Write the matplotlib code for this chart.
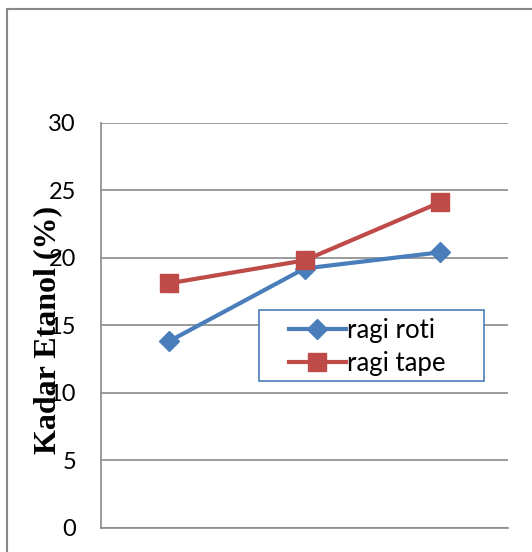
import numpy as np
import matplotlib
matplotlib.use('Agg')
import matplotlib.pyplot as plt
from matplotlib.patches import Rectangle

# data
categories = ['1', '2', '3']
ragi_roti = [13.8, 19.2, 20.4]
ragi_tape = [18.1, 19.8, 24.1]
y_ticks = [0, 5, 10, 15, 20, 25, 30]

blue = '#4A7EBB'
red = '#BE4B48'
grid_c = '#898989'

fig = plt.figure(figsize=(5.32, 5.52), dpi=100)
ax = fig.add_axes([101/532, 1 - 527.7/552, 407/532, 405/552])

x = np.arange(len(categories))
ax.plot(x, ragi_roti, color=blue, lw=3, marker='D', ms=10, label='ragi roti', zorder=3)
ax.plot(x, ragi_tape, color=red, lw=3, marker='s', ms=13, label='ragi tape', zorder=3)

ax.set_xlim(-0.5, 2.5)
ax.set_ylim(0, 30)
ax.set_yticks(y_ticks)
ax.set_xticks([])
ax.yaxis.grid(True, color=grid_c, lw=1.2)
ax.set_axisbelow(True)
for s in ['top', 'right']:
    ax.spines[s].set_visible(False)
for s in ['left', 'bottom']:
    ax.spines[s].set_color(grid_c)
    ax.spines[s].set_linewidth(1.2)
ax.tick_params(axis='y', length=0, pad=18, labelsize=17)
for t in ax.get_yticklabels():
    t.set_fontfamily('Lato')
    t.set_zorder(4)

fig.text(48/532, 1 - 330/552, 'Kadar Etanol (%)', rotation=90, ha='center', va='center',
         fontsize=23, fontweight='bold', fontfamily='Liberation Serif')

# legend box drawn separately so its size matches
fig.patches.append(Rectangle((259/532, 1 - 381/552), 225/532, 71/552, transform=fig.transFigure,
                             fill=True, facecolor='white', edgecolor=blue, lw=1.2, zorder=5))
leg = fig.legend(loc='upper left', bbox_to_anchor=(289/532, 1 - 318/552),
                 frameon=False, handlelength=2.2, handletextpad=0.05,
                 borderpad=0, labelspacing=0.3, prop={'family': 'Lato', 'size': 18.5},
                 borderaxespad=0)
leg.set_zorder(6)

# outer chart border
fig.patches.append(Rectangle((7/532, -0.05), 1.1, 1 - 9/552 + 0.05, transform=fig.transFigure,
                             fill=False, edgecolor=grid_c, lw=1.5))

fig.savefig('out.png', dpi=100)
